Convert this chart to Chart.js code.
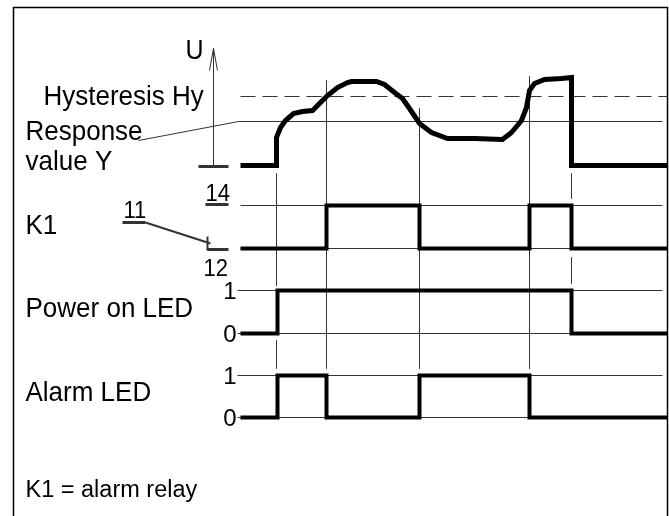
<!DOCTYPE html>
<html>
<head>
<meta charset="utf-8">
<script src="https://cdn.jsdelivr.net/npm/chart.js@4"></script>
<style>
  body { margin: 0; background: #fff; }
  #wrap { width: 669px; height: 516px; }
</style>
</head>
<body>
<div id="wrap"><canvas id="diagram"></canvas></div>
<script>
// measured voltage U over time (time / level in drawing units)
const uTime  = [240, 276, 276, 280, 285, 293, 302, 312, 320, 327, 337, 347, 351, 376, 384, 394, 402, 409, 419, 431, 447, 474, 502, 511, 521, 526, 529, 534, 544, 561, 571, 571, 667];
const uLevel = [165, 165, 137, 127, 120, 113, 111, 110, 102, 95, 87, 82, 81, 81, 84, 92, 98, 108, 123, 132, 138, 138, 139, 132, 120, 107, 90, 83, 79, 78, 77, 165, 165];

const hysteresisLevel = 96;
const responseLevel = 121;

// switching times and states of the outputs
const k1Edges = [240, 326, 419, 529, 571, 667];
const k1States = [0, 1, 0, 1, 0];
const k1Levels = [248, 205];

const powerEdges = [240, 277, 571, 667];
const powerStates = [0, 1, 0];
const powerLevels = [333, 290];

const alarmEdges = [240, 277, 326, 419, 529, 667];
const alarmStates = [0, 1, 0, 1, 0];
const alarmLevels = [417, 375];

// marker lines (time, from, to)
const markerTimes = [276, 276, 326, 419, 529, 571, 571];
const markerFrom  = [173, 340, 80, 108, 76, 173, 257];
const markerTo    = [285, 368, 368, 368, 368, 198, 283];

const rowLabels = ['K1', 'Power on LED', 'Alarm LED'];
const stateLabels = ['1', '0'];

function stepPoints(edges, states, levels) {
    var pts = [];
    for (var i = 0; i < states.length; i++) {
        pts.push({ x: edges[i], y: levels[states[i]] });
        pts.push({ x: edges[i + 1], y: levels[states[i]] });
    }
    return pts;
}

function seg(x1, y1, x2, y2, width, dash) {
    return {
        data: [{ x: x1, y: y1 }, { x: x2, y: y2 }],
        borderColor: '#333',
        borderWidth: width || 1,
        borderDash: dash || [],
        showLine: true,
        pointRadius: 0,
        fill: false
    };
}

function thick(pts, w) {
    return {
        data: pts,
        borderColor: '#000',
        borderWidth: w,
        borderJoinStyle: 'miter',
        borderCapStyle: 'butt',
        showLine: true,
        pointRadius: 0,
        tension: 0,
        fill: false
    };
}

const datasets = [];
datasets.push(thick(uTime.map(function (t, i) { return { x: t, y: uLevel[i] }; }), 5));
datasets.push(thick(stepPoints(k1Edges, k1States, k1Levels), 4));
datasets.push(thick(stepPoints(powerEdges, powerStates, powerLevels), 4));
datasets.push(thick(stepPoints(alarmEdges, alarmStates, alarmLevels), 4));

// reference lines
datasets.push(seg(240, hysteresisLevel, 667, hysteresisLevel, 1.2, [15, 7]));
datasets.push(seg(238, responseLevel, 662, responseLevel, 1));
datasets.push(seg(138, 140, 238, responseLevel, 1));
datasets.push(seg(240, k1Levels[1], 662, k1Levels[1], 1));
datasets.push(seg(240, k1Levels[0], 662, k1Levels[0], 1));
datasets.push(seg(237, powerLevels[1], 662, powerLevels[1], 1));
datasets.push(seg(237, powerLevels[0], 662, powerLevels[0], 1));
datasets.push(seg(237, alarmLevels[1], 662, alarmLevels[1], 1));
datasets.push(seg(237, alarmLevels[0], 662, alarmLevels[0], 1));
for (var m = 0; m < markerTimes.length; m++) {
    datasets.push(seg(markerTimes[m], markerFrom[m], markerTimes[m], markerTo[m], 1));
}

// U axis with arrow and base tick
datasets.push(seg(213, 48, 213, 166, 1));
datasets.push(seg(213, 48, 209, 70, 1));
datasets.push(seg(213, 48, 217, 70, 1));
datasets.push(seg(198, 166, 228, 166, 3));

// K1 contact symbol
datasets.push(seg(205, 204, 228, 204, 3));
datasets.push(seg(122, 222, 145, 222, 3));
datasets.push(seg(145, 222, 210, 243, 2));
datasets.push(seg(207, 236, 207, 250, 2));
datasets.push(seg(207, 249, 228, 249, 3));

// frame
datasets.push({
    data: [{ x: 13, y: 530 }, { x: 13, y: 7 }, { x: 667, y: 7 }, { x: 667, y: 530 }],
    borderColor: '#000', borderWidth: 1.5, showLine: true, pointRadius: 0, fill: false
});

const textPlugin = {
    id: 'texts',
    afterDraw: function (chart) {
        const ctx = chart.ctx;
        const xs = chart.scales.x, ys = chart.scales.y;
        function put(txt, x, y, size, align, sy) {
            ctx.save();
            ctx.font = size + 'px "Liberation Sans", Arial, sans-serif';
            ctx.textAlign = align || 'left';
            ctx.textBaseline = 'alphabetic';
            ctx.fillStyle = '#000';
            ctx.translate(xs.getPixelForValue(x), ys.getPixelForValue(y));
            ctx.scale(1, sy || 1.08);
            ctx.fillText(txt, 0, 0);
            ctx.restore();
        }
        put('U', 185, 58, 25, 'left', 1.12);
        put('Hysteresis Hy', 43, 104, 26);
        put('Response', 25, 139, 26);
        put('value Y', 25, 169, 26);
        put(rowLabels[0], 25, 233, 26);
        put('11', 123, 217, 22, 'left', 1.05);
        put('14', 205, 200, 22, 'left', 1.05);
        put('12', 203, 275, 22, 'left', 1.05);
        put(rowLabels[1], 25, 316, 26);
        put(stateLabels[0], 236, 298, 24, 'right', 1);
        put(stateLabels[1], 236, 341, 24, 'right', 1);
        put(rowLabels[2], 25, 400, 26);
        put(stateLabels[0], 236, 383, 24, 'right', 1);
        put(stateLabels[1], 236, 425, 24, 'right', 1);
        put('K1 = alarm relay', 25, 496, 23.5, 'left', 1.05);
    }
};

new Chart(document.getElementById('diagram'), {
    type: 'scatter',
    data: { datasets: datasets },
    options: {
        responsive: true,
        maintainAspectRatio: false,
        animation: false,
        layout: { padding: 0 },
        plugins: { legend: { display: false }, tooltip: { enabled: false } },
        scales: {
            x: { type: 'linear', min: -0.5, max: 668.5, display: false },
            y: { type: 'linear', min: -0.5, max: 515.5, reverse: true, display: false }
        }
    },
    plugins: [textPlugin]
});
</script>
</body>
</html>
